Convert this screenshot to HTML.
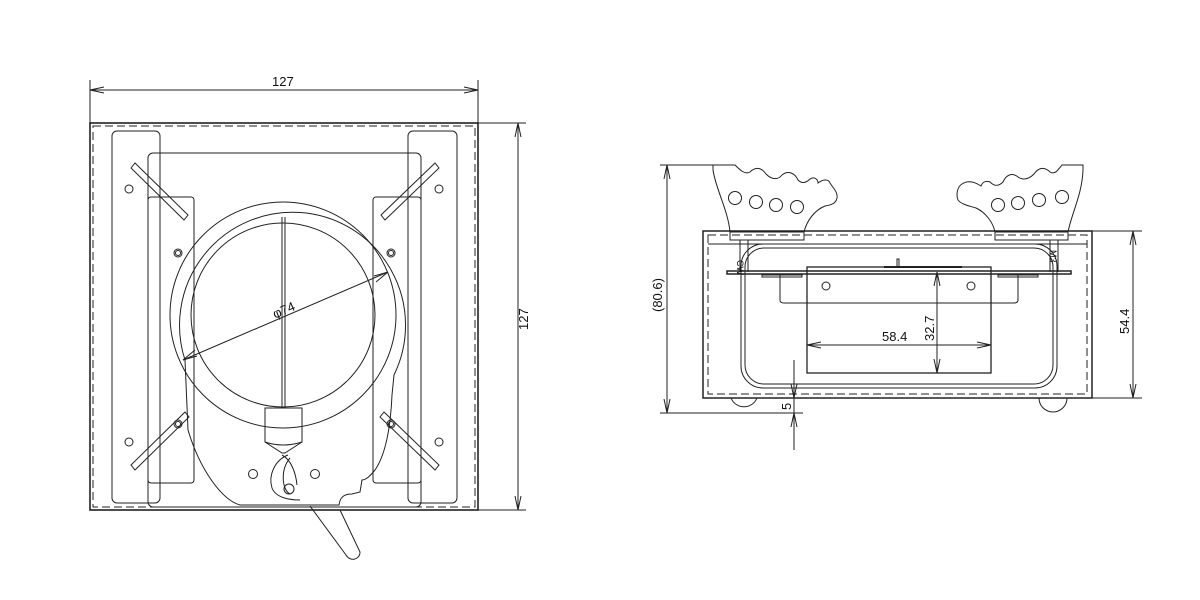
<!DOCTYPE html>
<html><head><meta charset="utf-8"><style>
html,body{margin:0;padding:0;background:#fff;}
svg{display:block;}
text{font-family:"Liberation Sans",sans-serif;font-size:13px;fill:#111;}
</style></head><body>
<svg width="1200" height="600" viewBox="0 0 1200 600" xmlns="http://www.w3.org/2000/svg">
<g fill="none" stroke="#222" stroke-width="1">
<!-- LEFT VIEW -->
<!-- dims -->
<line x1="90" y1="80" x2="90" y2="123"/><line x1="478" y1="80" x2="478" y2="123"/>
<line x1="90" y1="90" x2="478" y2="90"/>
<path d="M104 87 L90 90 L104 93 M464 87 L478 90 L464 93"/>
<line x1="478" y1="123" x2="526" y2="123"/><line x1="478" y1="510" x2="526" y2="510"/>
<line x1="518" y1="123" x2="518" y2="510"/>
<path d="M515 137 L518 123 L521 137 M515 496 L518 510 L521 496"/>
<!-- outer box -->
<rect x="90" y="123" width="388" height="387" stroke-width="1.6"/>
<rect x="93" y="126" width="382" height="381" stroke-dasharray="8,4"/>
<rect x="112" y="131" width="48" height="372" rx="5"/>
<rect x="408" y="131" width="49" height="372" rx="5"/>
<rect x="148" y="153" width="273" height="354" rx="5"/>
<rect x="148" y="197" width="46" height="286" rx="3"/>
<rect x="373" y="197" width="48" height="286" rx="3"/>
<!-- slots -->
<g stroke-width="1">
<path d="M131 168 L135 163 L188 215 L184 220 Z"/>
<path d="M439 168 L435 163 L381 215 L385 220 Z"/>
<path d="M185 412 L189 417 L135 470 L131 465 Z"/>
<path d="M384 412 L380 417 L435 470 L439 465 Z"/>
</g>
<g>
<circle cx="129" cy="189" r="4"/><circle cx="439" cy="189" r="4"/>
<circle cx="178" cy="253" r="4"/><circle cx="178" cy="253" r="2.5"/>
<circle cx="391" cy="253" r="4"/><circle cx="391" cy="253" r="2.5"/>
<circle cx="129" cy="442" r="4"/><circle cx="439" cy="442" r="4"/>
<circle cx="178" cy="424" r="4"/><circle cx="178" cy="424" r="2.5"/>
<circle cx="391" cy="424" r="4"/><circle cx="391" cy="424" r="2.5"/>
<circle cx="253" cy="474" r="4.5"/><circle cx="315" cy="474" r="4.5"/>
</g>
<!-- ring and body -->
<path d="M185 360 A113 113 0 1 1 394 375 L392 395 C390 440 382 460 375 470 C370 476 366 480 362 480 L360 492 L352 494 C344 494 340 497 339 505 L240 505 C222 500 200 470 188 430 Z"/>
<circle cx="283" cy="315" r="113" />
<circle cx="283" cy="315" r="92"/>
<line x1="282" y1="217" x2="282" y2="408"/><line x1="285" y1="217" x2="285" y2="408"/>
<path d="M265 408 H302 V442 L285 453 L282 453 L265 442 Z"/>
<path d="M265 442 Q283 448 302 442"/>
<path d="M288 455 C275 460 268 475 272 488 C276 498 290 500 300 500 M282 455 C292 460 296 475 297 485 M290 458 C280 470 282 490 290 494"/>
<circle cx="289" cy="489" r="5"/>
<!-- handle -->
<path d="M310 506 L346 555 C350 562 360 560 360 552 L340 510"/>
<!-- dia dim -->
<line x1="183" y1="360" x2="388" y2="272"/>
<path d="M183 360 L195 350 M183 360 L197 356 M388 272 L374 276 M388 272 L376 282"/>
</g>
<text x="272" y="316" transform="rotate(-23 280 310)">φ74</text>
<text x="272" y="86">127</text>
<text x="0" y="0" transform="translate(528 330) rotate(-90)">127</text>

<!-- RIGHT VIEW -->
<g fill="none" stroke="#222" stroke-width="1">
<!-- supports -->
<path d="M713 165 L735 165 C740 170 745 175 750 172 C756 166 762 168 766 174 C772 180 778 180 782 175 C788 170 795 173 798 180 C802 184 806 183 810 179 C815 176 818 180 818 183 C822 180 828 178 830 183 C833 188 838 192 837 198 C836 203 832 205 825 206 C815 210 807 220 804 232 L730 232 C728 210 716 190 713 170 Z"/>
<circle cx="735" cy="198" r="6.5"/><circle cx="756" cy="202" r="6.5"/><circle cx="776" cy="205" r="6.5"/><circle cx="797" cy="207" r="6.5"/>
<path d="M1083 165 L1062 165 C1058 170 1055 175 1050 172 C1044 166 1038 168 1034 174 C1028 180 1022 180 1018 177 C1012 172 1006 175 1003 182 C998 187 994 186 990 182 C985 180 982 183 981 186 C975 182 968 180 962 184 C957 187 956 195 958 200 C962 205 970 206 976 208 C985 212 993 222 995 232 L1068 232 C1072 212 1082 195 1083 170 Z"/>
<circle cx="998" cy="205" r="6.5"/><circle cx="1018" cy="203" r="6.5"/><circle cx="1039" cy="200" r="6.5"/><circle cx="1062" cy="197" r="6.5"/>
<!-- body -->
<rect x="703" y="231" width="389" height="167" stroke-width="1.5"/>
<rect x="708" y="235" width="379" height="159" stroke-dasharray="8,4"/>
<line x1="708" y1="244" x2="1087" y2="244"/>
<path d="M730 231 V240 H804 V231 M995 231 V240 H1068 V231"/>
<path d="M740 240 V272 M748 240 V272 M1050 240 V272 M1058 240 V272"/>
<rect x="741" y="244" width="316" height="144" rx="22"/>
<rect x="745" y="248" width="308" height="136" rx="19"/>
<rect x="727" y="271" width="344" height="3" stroke-width="1.5"/>
<rect x="762" y="275" width="40" height="2"/><rect x="998" y="275" width="40" height="2"/>
<path d="M780 274 V300 Q780 303 784 303 H1014 Q1018 303 1018 300 V274"/>
<rect x="807" y="267" width="184" height="106" stroke-width="1.3"/>
<line x1="884" y1="267" x2="962" y2="267" stroke-width="2"/>
<path d="M897 267 V259 H899 V267"/>
<circle cx="826" cy="286" r="4"/><circle cx="971" cy="286" r="4"/>
<!-- feet -->
<path d="M731 398 A14 14 0 0 0 757 398"/>
<path d="M1039 398 A14 14 0 0 0 1067 398"/>
<!-- dims -->
<line x1="807" y1="345" x2="991" y2="345"/>
<path d="M821 342 L807 345 L821 348 M977 342 L991 345 L977 348"/>
<line x1="937" y1="272" x2="937" y2="373"/>
<path d="M934 286 L937 272 L940 286 M934 359 L937 373 L940 359"/>
<line x1="1092" y1="231" x2="1142" y2="231"/><line x1="1092" y1="398" x2="1142" y2="398"/>
<line x1="1133" y1="231" x2="1133" y2="398"/>
<path d="M1130 245 L1133 231 L1136 245 M1130 384 L1133 398 L1136 384"/>
<line x1="660" y1="165" x2="713" y2="165"/><line x1="660" y1="413" x2="803" y2="413"/>
<line x1="667" y1="165" x2="667" y2="413"/>
<path d="M664 179 L667 165 L670 179 M664 399 L667 413 L670 399"/>
<line x1="794" y1="360" x2="794" y2="450"/>
<path d="M791 384 L794 398 L797 384 M791 427 L794 413 L797 427"/>
</g>
<text x="882" y="341">58.4</text>
<text transform="translate(934 341) rotate(-90)">32.7</text>
<text transform="translate(1129 334) rotate(-90)">54.4</text>
<text transform="translate(662 312) rotate(-90)">(80.6)</text>
<text transform="translate(791 410) rotate(-90)">5</text>
<text transform="translate(737 260) rotate(90)" style="font-size:9px">CW</text>
<text transform="translate(1050 250) rotate(90)" style="font-size:9px">M3</text>
</svg>
</body></html>
